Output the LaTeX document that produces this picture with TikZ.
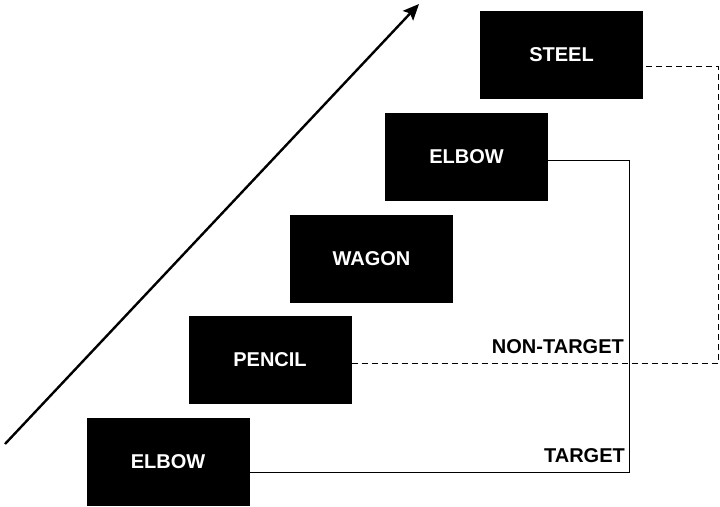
\documentclass[tikz,border=0pt]{standalone}
\usepackage{fontspec}
\setmainfont{Liberation Sans}
\usetikzlibrary{arrows.meta}
\tikzset{
    wordbox/.style={fill = black, text = white, minimum width = 163pt, minimum height = 88pt, inner sep = 0pt, font = \fontsize{20}{24}\selectfont\bfseries},
    tag/.style={inner sep = 0pt, font = \fontsize{20}{24}\selectfont\bfseries}
}
\begin{document}
\begin{tikzpicture}[x=1pt, y=-1pt]
                \useasboundingbox (0, 0) rectangle (720, 506);
                \coordinate (lowend) at (5, 444);
                \coordinate (highend) at (419, 4);
                \draw[line width = 2.4pt, -{Stealth[length = 16pt, width = 14pt, inset = 3pt]}] (lowend) -- (highend);
                \foreach \name/\word/\x/\y in {elbowA/ELBOW/168/462, pencil/PENCIL/270/360, wagon/WAGON/371.5/258.5, elbowB/ELBOW/466.5/156.5, steel/STEEL/561.5/55}{
                    \node[wordbox] (\name) at (\x, \y) {\word};
                }
                \draw[line width = 1pt] ([yshift = -10pt]elbowA.east) -| ([xshift = 81pt, yshift = -3.5pt]elbowB.east) -- ([yshift = -3.5pt]elbowB.east);
                \draw[line width = 1pt, dash pattern = on 6pt off 4pt] ([yshift = -3pt]pencil.east) -| ([xshift = 75pt, yshift = -11pt]steel.east) -- ([yshift = -11pt]steel.east);
                \node[tag, anchor = base east] (nontarget) at (624, 353) {NON-TARGET};
                \node[tag, anchor = base east] (target) at (625, 462) {TARGET};
            \end{tikzpicture}
\end{document}
